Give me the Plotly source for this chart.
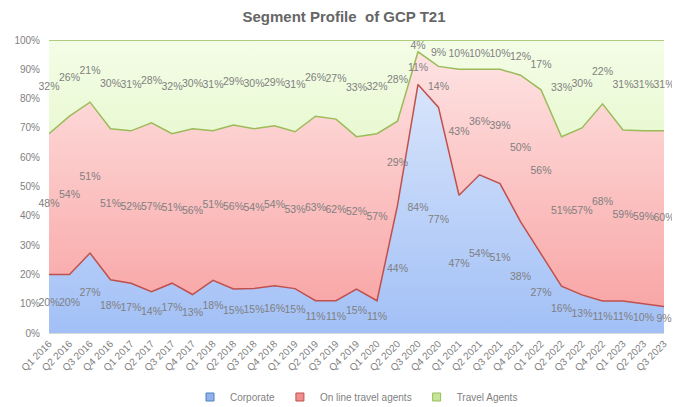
import plotly.graph_objects as go

quarters = ["Q1 2016","Q2 2016","Q3 2016","Q4 2016","Q1 2017","Q2 2017","Q3 2017","Q4 2017",
            "Q1 2018","Q2 2018","Q3 2018","Q4 2018","Q1 2019","Q2 2019","Q3 2019","Q4 2019",
            "Q1 2020","Q2 2020","Q3 2020","Q4 2020","Q1 2021","Q2 2021","Q3 2021","Q4 2021",
            "Q1 2022","Q2 2022","Q3 2022","Q4 2022","Q1 2023","Q2 2023","Q3 2023"]
corporate = [20,20,27,18,17,14,17,13,18,15,15,16,15,11,11,15,11,44,84,77,47,54,51,38,27,16,13,11,11,10,9]
ota = [48,54,51,51,52,57,51,56,51,56,54,54,53,63,62,52,57,29,11,14,43,36,39,50,56,51,57,68,59,59,60]
travel_agents = [32,26,21,30,31,28,32,30,31,29,30,29,31,26,27,33,32,28,4,9,10,10,10,12,17,33,30,22,31,31,31]

names = ["Corporate", "On line travel agents", "Travel Agents"]
series = [corporate, ota, travel_agents]
base_colors = ["#4f81bd", "#c0504d", "#9bbb59"]
# boundary drawn on top of each band is the outline of the next band
top_line_colors = ["#c0504d", "#9bbb59", "#9bbb59"]
grads = [
    [[0, "#a2c0f6"], [1, "#e2ebfc"]],
    [[0, "#f8a0a0"], [1, "#ffe6e6"]],
    [[0, "#d2f0a8"], [1, "#f4fde7"]],
]
legend_fill = ["#8fb1ec", "#ee8f8d", "#c5e59a"]
font_family = "Liberation Sans"
gray = "#7f7f7f"

W, H = 672, 399  # page body has an 8px margin
ML, MR, MT, MB = 41, 16, 32, 74

fig = go.Figure()
for name, vals, lc, g in zip(names, series, top_line_colors, grads):
    fig.add_trace(go.Scatter(
        x=quarters, y=vals, name=name, mode="lines", stackgroup="one", groupnorm="percent",
        line=dict(color=lc, width=1.5), fillgradient=dict(type="vertical", colorscale=g, start=0, stop=100),
        showlegend=False, hoverinfo="skip"))

# labels at band midpoints (normalized)
totals = [a + b + c for a, b, c in zip(*series)]
cum = [0.0] * len(quarters)
for vals in series:
    mids = []
    for i, v in enumerate(vals):
        share = v / totals[i] * 100
        mids.append(cum[i] + share / 2)
        cum[i] += share
    fig.add_trace(go.Scatter(
        x=quarters, y=mids, mode="text", text=[f"{v}%" for v in vals], cliponaxis=False,
        textfont=dict(color=gray, size=10.5, family=font_family),
        showlegend=False, hoverinfo="skip"))

for name, lc, lf in zip(names, base_colors, legend_fill):
    fig.add_trace(go.Scatter(
        x=[None], y=[None], mode="markers", name=name,
        marker=dict(symbol="square", size=8, color=lf, line=dict(color=lc, width=1))))

fig.update_layout(
    width=W, height=H,
    margin=dict(l=ML, r=MR, t=MT, b=MB, autoexpand=False),
    paper_bgcolor="white", plot_bgcolor="white",
    title=dict(text="<b>Segment Profile  of GCP T21</b>", x=0.5, xanchor="center", y=1 - 9 / H, yanchor="middle",
               font=dict(size=15, color="#666666", family=font_family)),
    font=dict(family=font_family, color=gray, size=10),
    legend=dict(orientation="h", x=0.5, xanchor="center", yref="container", y=10 / H, yanchor="middle",
                traceorder="normal", font=dict(size=10, color=gray), itemwidth=30, tracegroupgap=0),
    showlegend=True,
)
fig.update_xaxes(type="category", tickangle=-45, showgrid=False, ticks="", showline=True, automargin=False,
                 linecolor="#d9d9d9", range=[0, len(quarters) - 1], tickfont=dict(size=10, color=gray))
fig.update_yaxes(range=[0, 100], dtick=10, ticksuffix="%", showgrid=False, zeroline=False, automargin=False,
                 ticklabelstandoff=8, tickfont=dict(size=10, color=gray))

fig.write_html("out.html")
